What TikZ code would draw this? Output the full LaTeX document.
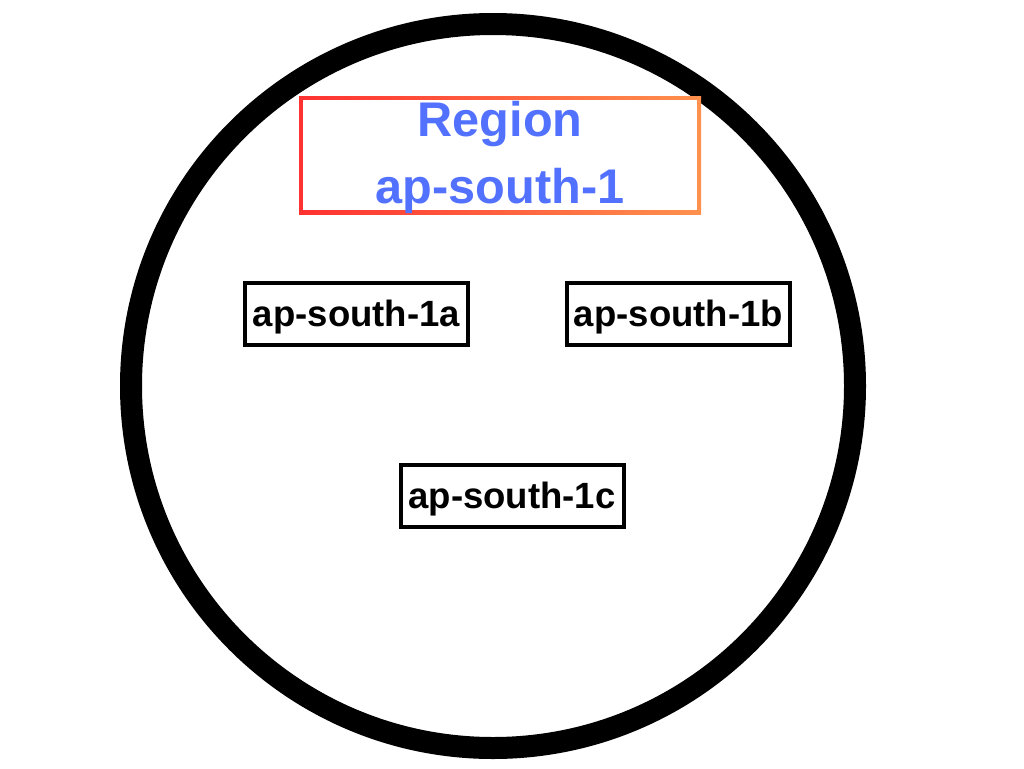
\documentclass[tikz,border=0pt]{standalone}
\usepackage{fontspec}
\setmainfont{Liberation Sans}
\usetikzlibrary{calc}
\definecolor{ringink}{RGB}{0,0,0}
\definecolor{regionred}{RGB}{255,49,49}
\definecolor{regionorange}{RGB}{255,145,77}
\definecolor{regionblue}{RGB}{82,113,255}

\begin{document}
\begin{tikzpicture}[
  x=0.75pt, y=-0.75pt,
  zone/.style={
    draw=ringink, fill=white, line width=3pt,
    minimum width=167.25pt, minimum height=46.5pt,
    text height=20pt, text depth=1.5pt,
    inner sep=0pt, font=\fontsize{27.4}{32}\selectfont\bfseries
  },
  regionbox/.style={
    minimum width=301.5pt, minimum height=88.5pt, inner sep=0pt,
    align=center, text=regionblue,
    font=\fontsize{36.5}{50.5}\selectfont\bfseries,
    path picture={
      \shade[left color=regionred, right color=regionorange]
        (path picture bounding box.south west)
        rectangle (path picture bounding box.north east);
      \fill[white]
        ([shift={(3pt,3pt)}]path picture bounding box.south west)
        rectangle ([shift={(-3pt,-3pt)}]path picture bounding box.north east);
    }
  }
]
\useasboundingbox (0,0) rectangle (1024,768);

% Thick outer ring.
\draw[ringink, line width=16.5pt] (493,386) circle[radius=271.5pt];

% Region title with a gradient frame.
\node[regionbox] (region) at (500,155) {};
\node[font=\fontsize{36.5}{50.5}\selectfont\bfseries, text=regionblue, align=center,
  inner sep=0pt] (regionname) at (500,157.5) {Region\\ap-south-1};

% Availability zones.
\node[zone] (zonea) at (356.5,314) {ap-south-1a};
\node[zone] (zoneb) at (678.5,314) {ap-south-1b};
\node[zone] (zonec) at (512,496) {ap-south-1c};

\end{tikzpicture}
\end{document}
